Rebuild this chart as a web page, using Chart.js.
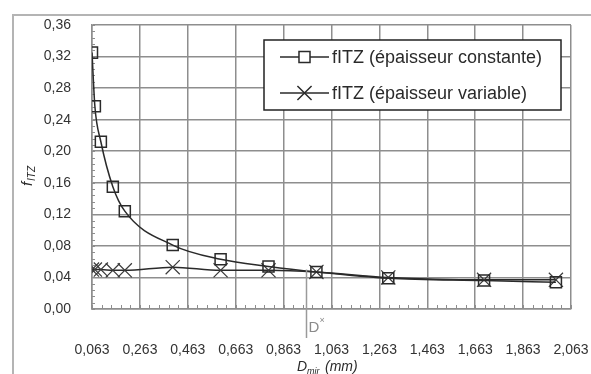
<!DOCTYPE html>
<html>
<head>
<meta charset="utf-8">
<script src="https://cdn.jsdelivr.net/npm/chart.js@4.4.1/dist/chart.umd.min.js"></script>
<style>html,body{margin:0;padding:0;background:#fff}</style>
</head>
<body>
<canvas id="chart" width="591" height="374"></canvas>
<script>
// axis ticks
const xTicks = [0.063, 0.263, 0.463, 0.663, 0.863, 1.063, 1.263, 1.463, 1.663, 1.863, 2.063];
const yTicks = [0, 0.04, 0.08, 0.12, 0.16, 0.20, 0.24, 0.28, 0.32, 0.36];

// D_mir (mm) and fITZ values
const dMir = [0.063, 0.075, 0.1, 0.15, 0.2, 0.4, 0.6, 0.8, 1.0, 1.3, 1.7, 2.0];
const fConst = [0.325, 0.257, 0.212, 0.155, 0.124, 0.081, 0.063, 0.054, 0.047, 0.039, 0.036, 0.034];
const fVar = [0.050, 0.050, 0.050, 0.049, 0.049, 0.053, 0.049, 0.049, 0.047, 0.040, 0.037, 0.037];
const seriesLabels = ['fITZ (épaisseur constante)', 'fITZ (épaisseur variable)'];

// D* marker
const dStar = 0.956;
const dStarF = 0.050;

const textFont = "'Liberation Sans', Arial, sans-serif";
const gridColor = '#8e8e8e';
const inkColor = '#2a2a2a';

const fmt = (v, d) => v.toFixed(d).replace('.', ',');
const toPts = (ys) => ys.map((y, i) => ({ x: dMir[i], y }));

const decorations = {
  id: 'decorations',
  beforeDatasetsDraw(chart) {
    const { ctx, chartArea: a, scales: { x, y } } = chart;
    ctx.save();
    ctx.strokeStyle = gridColor;
    ctx.lineWidth = 1;
    // minor ticks along the y axis (every 0.008)
    for (let i = 0; i <= 45; i++) {
      const py = Math.round(y.getPixelForValue(i * 0.008)) + 0.5;
      ctx.beginPath(); ctx.moveTo(a.left, py); ctx.lineTo(a.left + 3, py); ctx.stroke();
    }
    // minor ticks along the x axis (every 0.04)
    for (let i = 0; i <= 50; i++) {
      const px = Math.round(x.getPixelForValue(0.063 + i * 0.04)) + 0.5;
      ctx.beginPath(); ctx.moveTo(px, a.bottom); ctx.lineTo(px, a.bottom - 4); ctx.stroke();
    }
    ctx.restore();
  },
  afterDraw(chart) {
    const { ctx, scales: { x, y } } = chart;
    ctx.save();

    // outer frame (top and left only visible)
    ctx.strokeStyle = '#b4b4b4';
    ctx.lineWidth = 2;
    ctx.beginPath(); ctx.moveTo(591, 15); ctx.lineTo(13, 15); ctx.lineTo(13, 374); ctx.stroke();

    // D* annotation
    const dx = Math.round(x.getPixelForValue(dStar)) + 0.5;
    ctx.strokeStyle = '#9a9a9a';
    ctx.lineWidth = 1.5;
    ctx.beginPath(); ctx.moveTo(dx, y.getPixelForValue(dStarF)); ctx.lineTo(dx, 338); ctx.stroke();
    ctx.fillStyle = '#8a8a8a';
    ctx.textBaseline = 'alphabetic';
    ctx.textAlign = 'left';
    ctx.font = `15px ${textFont}`;
    ctx.fillText('D', dx + 2, 332);
    ctx.font = `9px ${textFont}`;
    ctx.fillText('×', dx + 13, 323);

    // y axis title f_ITZ
    ctx.fillStyle = inkColor;
    ctx.translate(32, 176);
    ctx.rotate(-Math.PI / 2);
    ctx.font = `italic 15px ${textFont}`;
    ctx.fillText('f', -10, 0);
    ctx.font = `italic 10px ${textFont}`;
    ctx.fillText('ITZ', -5, 3);
    ctx.setTransform(1, 0, 0, 1, 0, 0);

    // x axis title D_mir (mm)
    ctx.font = `italic 14px ${textFont}`;
    ctx.fillText('D', 297, 371);
    ctx.font = `italic 9px ${textFont}`;
    ctx.fillText('mir', 307, 374);
    ctx.font = `italic 14px ${textFont}`;
    ctx.fillText('(mm)', 325, 371);

    // legend box
    const lx = 264, ly = 40, lw = 297, lh = 70;
    ctx.fillStyle = '#fff';
    ctx.fillRect(lx, ly, lw, lh);
    ctx.strokeStyle = '#222';
    ctx.lineWidth = 1.5;
    ctx.strokeRect(lx, ly, lw, lh);
    const rows = [57, 93];
    chart.data.datasets.forEach((ds, i) => {
      const ry = rows[i];
      ctx.strokeStyle = inkColor;
      ctx.lineWidth = 1.5;
      ctx.beginPath(); ctx.moveTo(280, ry); ctx.lineTo(329, ry); ctx.stroke();
      Chart.helpers.drawPoint(ctx, {
        pointStyle: ds.pointStyle, radius: ds.pointRadius, borderWidth: ds.pointBorderWidth
      }, 304.5, ry);
      ctx.fillStyle = inkColor;
      ctx.font = `18px ${textFont}`;
      ctx.textBaseline = 'middle';
      ctx.fillText(ds.label, 332, ry + 1);
    });
    ctx.restore();
  }
};

new Chart(document.getElementById('chart'), {
  type: 'line',
  data: {
    datasets: [
      {
        label: seriesLabels[0],
        data: toPts(fConst),
        borderColor: inkColor,
        borderWidth: 1.5,
        pointStyle: 'rect',
        pointRadius: 7.8,
        pointBorderWidth: 1.5,
        pointBorderColor: inkColor,
        pointBackgroundColor: 'rgba(255,255,255,0)',
        cubicInterpolationMode: 'monotone'
      },
      {
        label: seriesLabels[1],
        data: toPts(fVar),
        borderColor: inkColor,
        borderWidth: 1.5,
        pointStyle: 'crossRot',
        pointRadius: 10,
        pointBorderWidth: 1.2,
        pointBorderColor: '#3a3a3a',
        cubicInterpolationMode: 'monotone'
      }
    ]
  },
  options: {
    responsive: false,
    animation: false,
    layout: { padding: { top: 25, right: 20, left: 0, bottom: 0 } },
    plugins: { legend: { display: false }, tooltip: { enabled: false } },
    scales: {
      x: {
        type: 'linear',
        min: 0.063,
        max: 2.063,
        afterBuildTicks: (s) => { s.ticks = xTicks.map(v => ({ value: v })); },
        afterFit: (s) => { s.height = 65; s.paddingLeft = 0; s.paddingRight = 0; },
        grid: { color: gridColor, lineWidth: 1.5, drawTicks: false },
        border: { color: gridColor, width: 1.5 },
        ticks: {
          padding: 33, autoSkip: false, maxRotation: 0, color: '#333',
          font: { family: textFont, size: 14 },
          callback: (v) => fmt(v, 3)
        }
      },
      y: {
        min: 0,
        max: 0.36,
        afterBuildTicks: (s) => { s.ticks = yTicks.map(v => ({ value: v })); },
        afterFit: (s) => { s.width = 92; s.paddingTop = 0; s.paddingBottom = 0; },
        grid: { color: gridColor, lineWidth: 1.5, drawTicks: false },
        border: { color: gridColor, width: 1.5 },
        ticks: {
          padding: 21, autoSkip: false, color: '#333',
          font: { family: textFont, size: 14 },
          callback: (v) => fmt(v, 2)
        }
      }
    }
  },
  plugins: [decorations]
});
</script>
</body>
</html>
